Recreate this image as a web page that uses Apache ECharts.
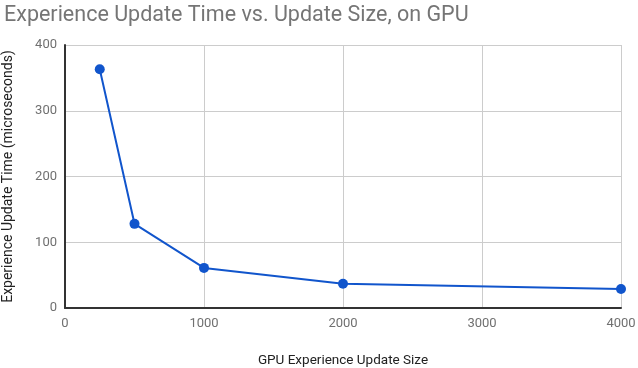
<!DOCTYPE html>
<html>
<head>
<meta charset="utf-8">
<script src="https://cdn.jsdelivr.net/npm/echarts@6/dist/echarts.min.js"></script>
<style>
  html, body { margin: 0; padding: 0; background: #fff; }
  #main { width: 638px; height: 368px; }
</style>
</head>
<body>
<div id="main"></div>
<script>
// 数据: 更新大小 与 更新耗时(微秒)
var updateSizes = [250, 500, 1000, 2000, 4000]
var updateTimes = [363, 128, 61, 37, 29]

var chart = echarts.init(document.getElementById('main'))

var points = updateSizes.map(function (s, i) { return [s, updateTimes[i]] })

chart.setOption({
  animation: false,
  title: {
    text: 'Experience Update Time vs. Update Size, on GPU',
    left: -1,
    top: 0,
    textStyle: {
      fontFamily: 'Roboto',
      fontSize: 21.5,
      fontWeight: 'normal',
      color: '#757575'
    }
  },
  grid: {
    left: 65,
    right: 17,
    top: 45,
    bottom: 60,
    outerBoundsMode: 'none'
  },
  xAxis: {
    type: 'value',
    min: 0,
    max: 4000,
    interval: 1000,
    name: 'GPU Experience Update Size',
    nameLocation: 'middle',
    nameGap: 46,
    nameTextStyle: { fontFamily: 'Roboto', fontSize: 13.5, color: '#222' },
    axisLine: { show: true, lineStyle: { color: '#333', width: 2 } },
    axisTick: { show: false },
    axisLabel: {
      fontFamily: 'Roboto', fontSize: 13, color: '#707070', margin: 9,
      formatter: function (v) { return String(v) }
    },
    splitLine: { show: true, lineStyle: { color: '#ccc', width: 1 } }
  },
  yAxis: {
    type: 'value',
    min: 0,
    max: 400,
    interval: 100,
    name: 'Experience Update Time (microseconds)',
    nameLocation: 'middle',
    nameGap: 50,
    nameTextStyle: { fontFamily: 'Roboto', fontSize: 14, color: '#222' },
    axisLine: { show: true, lineStyle: { color: '#333', width: 2 } },
    axisTick: { show: false },
    axisLabel: { fontFamily: 'Roboto', fontSize: 13, color: '#707070', margin: 8 },
    splitLine: { show: true, lineStyle: { color: '#ccc', width: 1 } }
  },
  series: [
    {
      type: 'line',
      data: points,
      symbol: 'circle',
      symbolSize: 10,
      lineStyle: { color: '#1155cc', width: 2 },
      itemStyle: { color: '#1155cc' }
    }
  ]
})
</script>
</body>
</html>
